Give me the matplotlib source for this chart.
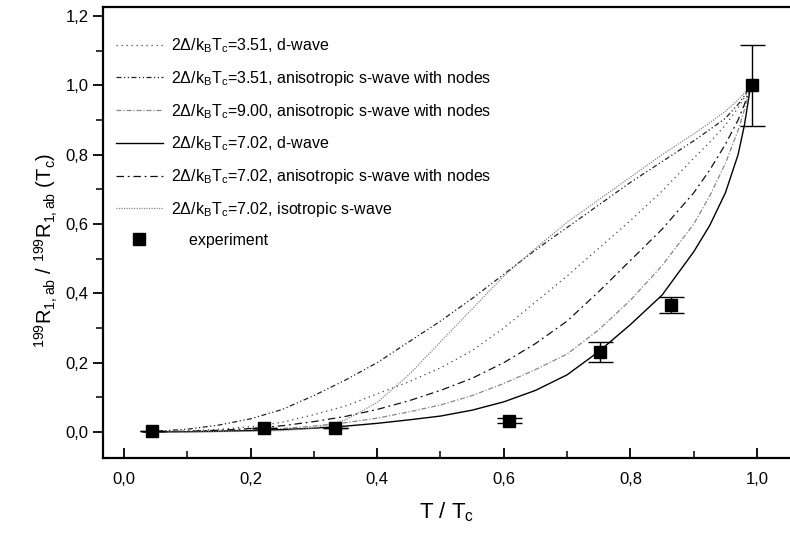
import numpy as np
import matplotlib
matplotlib.use("Agg")
import matplotlib.pyplot as plt
from matplotlib.lines import Line2D
from matplotlib.ticker import MultipleLocator, FuncFormatter

plt.rcParams['font.family'] = ['Liberation Sans', 'DejaVu Sans']
plt.rcParams['mathtext.fontset'] = 'custom'
plt.rcParams['mathtext.rm'] = 'Liberation Sans'
plt.rcParams['mathtext.it'] = 'Liberation Sans'
plt.rcParams['mathtext.default'] = 'regular'

# reduced temperature grid of the model curves
t_model = [0.03, 0.1, 0.15, 0.2, 0.25, 0.3, 0.35, 0.4, 0.45, 0.5, 0.55,
           0.6, 0.65, 0.7, 0.75, 0.8, 0.85, 0.9, 0.925, 0.95, 0.97, 0.98, 0.99]

d351 = [0, 0.003, 0.008, 0.015, 0.028, 0.05, 0.075, 0.11, 0.145, 0.185, 0.235,
        0.3, 0.375, 0.45, 0.53, 0.61, 0.695, 0.79, 0.835, 0.885, 0.935, 0.965, 1.0]
aniso351 = [0, 0.008, 0.02, 0.038, 0.065, 0.105, 0.15, 0.2, 0.26, 0.32, 0.385,
            0.455, 0.525, 0.59, 0.655, 0.72, 0.78, 0.84, 0.872, 0.905, 0.945, 0.97, 1.0]
aniso900 = [0, 0.001, 0.003, 0.006, 0.01, 0.017, 0.027, 0.04, 0.058, 0.078, 0.105,
            0.14, 0.18, 0.225, 0.295, 0.38, 0.48, 0.6, 0.68, 0.775, 0.87, 0.93, 1.0]
d702 = [0, 0.001, 0.002, 0.004, 0.007, 0.011, 0.017, 0.025, 0.035, 0.046, 0.063,
        0.087, 0.12, 0.165, 0.232, 0.31, 0.395, 0.52, 0.595, 0.69, 0.8, 0.885, 1.0]
aniso702 = [0, 0.002, 0.005, 0.01, 0.018, 0.03, 0.045, 0.065, 0.09, 0.12, 0.155,
            0.2, 0.255, 0.32, 0.405, 0.495, 0.585, 0.69, 0.755, 0.83, 0.9, 0.945, 1.0]
iso702 = [0, 0, 0.001, 0.002, 0.004, 0.011, 0.035, 0.085, 0.165, 0.26, 0.355,
          0.45, 0.53, 0.605, 0.67, 0.735, 0.8, 0.86, 0.892, 0.925, 0.958, 0.978, 1.0]

# experiment
t_exp = [0.044, 0.221, 0.333, 0.608, 0.752, 0.864, 0.992]
r_exp = [0.003, 0.012, 0.012, 0.033, 0.231, 0.366, 1.0]
r_err = [0.0, 0.0, 0.0, 0.006, 0.03, 0.023, 0.117]

fig = plt.figure(figsize=(7.9, 5.36), dpi=100)
ax = fig.add_axes([0.1304, 0.1455, 0.8696, 0.8415])

lab = r'2$\Delta$/k$_B$T$_c$='
ax.plot(t_model, d351, color='#444444', lw=0.9, ls=(0, (1, 3)),
        label=lab + '3.51, d-wave')
ax.plot(t_model, aniso351, color='#222222', lw=0.9, ls=(0, (4, 2, 1, 2, 1, 2)),
        label=lab + '3.51, anisotropic s-wave with nodes')
ax.plot(t_model, aniso900, color='#888888', lw=0.9, ls=(0, (4, 1.5, 1, 1.5)),
        label=lab + '9.00, anisotropic s-wave with nodes')
ax.plot(t_model, d702, color='black', lw=1.0, ls='-',
        label=lab + '7.02, d-wave')
ax.plot(t_model, aniso702, color='#111111', lw=0.9, ls=(0, (6, 3, 1.5, 3)),
        label=lab + '7.02, anisotropic s-wave with nodes')
ax.plot(t_model, iso702, color='#888888', lw=0.9, ls=(0, (1, 1)),
        label=lab + '7.02, isotropic s-wave')
ax.errorbar(t_exp, r_exp, yerr=r_err, fmt='s', color='black', ms=9,
            elinewidth=1.0, capsize=9, capthick=1.0)

ax.set_xlim(-0.033, 1.052)
ax.set_ylim(-0.075, 1.226)

ax.xaxis.set_major_locator(MultipleLocator(0.2))
ax.xaxis.set_minor_locator(MultipleLocator(0.1))
ax.yaxis.set_major_locator(MultipleLocator(0.2))
ax.yaxis.set_minor_locator(MultipleLocator(0.1))
comma = FuncFormatter(lambda v, p: ('%.1f' % v).replace('.', ','))
ax.xaxis.set_major_formatter(comma)
ax.yaxis.set_major_formatter(comma)

ax.tick_params(axis='x', which='both', direction='in', top=False, labelsize=12, pad=10)
ax.tick_params(axis='y', which='both', direction='out', right=False, labelsize=12)
ax.tick_params(which='major', length=7, width=1.3)
ax.tick_params(which='minor', length=5, width=1.1)

for s in ax.spines.values():
    s.set_linewidth(1.6)
ax.spines['right'].set_visible(False)

ax.set_xlabel('T / T$_c$', fontsize=16, labelpad=10)
ax.set_ylabel(r'$^{199}$R$_{1,ab}$ / $^{199}$R$_{1,ab}$ (T$_c$)', fontsize=14.5)
ax.yaxis.set_label_coords(-0.062, 0.46)

handles, labels = ax.get_legend_handles_labels()
handles.append(Line2D([], [], marker='s', ls='none', color='black', ms=8))
labels.append('    experiment')
ax.legend(handles, labels, loc='upper left', bbox_to_anchor=(0.002, 0.96),
          frameon=False, fontsize=11.5, handlelength=2.94, handletextpad=0.55,
          labelspacing=0.87, borderaxespad=0.3)

fig.savefig('out.png', dpi=100)
